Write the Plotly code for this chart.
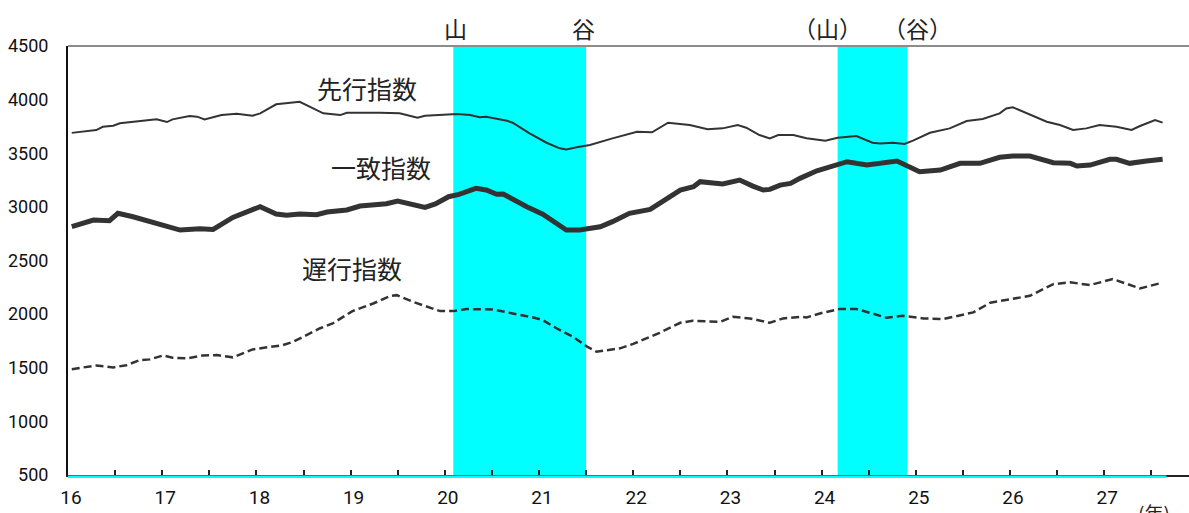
import plotly.graph_objects as go

# ---- data (years: Showa era, decimal) ----
lead_x = [16.04, 16.30, 16.37, 16.48, 16.55, 16.94, 17.05, 17.11, 17.29, 17.37, 17.45, 17.54, 17.63,
          17.79, 17.96, 18.04, 18.21, 18.46, 18.71, 18.89, 18.96, 19.31, 19.52, 19.71, 19.79, 20.13,
          20.27, 20.37, 20.44, 20.66, 20.72, 20.90, 21.08, 21.22, 21.29, 21.40, 21.54, 21.78, 22.04,
          22.20, 22.37, 22.60, 22.79, 22.95, 23.11, 23.20, 23.34, 23.45, 23.54, 23.70, 23.84, 24.04,
          24.17, 24.37, 24.54, 24.62, 24.76, 24.88, 24.97, 25.15, 25.36, 25.54, 25.71, 25.89, 25.96,
          26.03, 26.14, 26.39, 26.53, 26.67, 26.81, 26.95, 27.13, 27.29, 27.38, 27.54, 27.62]
lead_y = [3690, 3716, 3747, 3757, 3779, 3816, 3791, 3816, 3847, 3841, 3816, 3835, 3856,
          3869, 3850, 3872, 3956, 3980, 3872, 3856, 3878, 3878, 3872, 3831, 3850, 3866,
          3856, 3835, 3841, 3803, 3785, 3686, 3598, 3546, 3536, 3555, 3577, 3639, 3701,
          3695, 3785, 3763, 3723, 3732, 3763, 3738, 3670, 3639, 3670, 3670, 3639, 3617,
          3645, 3660, 3598, 3592, 3598, 3586, 3617, 3691, 3732, 3800, 3819, 3872, 3918,
          3928, 3887, 3794, 3763, 3717, 3732, 3763, 3748, 3717, 3754, 3810, 3785]

coin_x = [16.04, 16.20, 16.27, 16.44, 16.53, 16.69, 16.90, 17.19, 17.40, 17.54, 17.75, 17.90, 18.04,
          18.21, 18.32, 18.46, 18.64, 18.75, 18.96, 19.10, 19.21, 19.38, 19.50, 19.65, 19.79, 19.90,
          20.04, 20.15, 20.33, 20.44, 20.55, 20.62, 20.72, 20.87, 21.04, 21.19, 21.29, 21.43, 21.51,
          21.65, 21.78, 21.96, 22.18, 22.31, 22.50, 22.64, 22.71, 22.95, 23.13, 23.27, 23.38, 23.45,
          23.56, 23.67, 23.77, 23.95, 24.09, 24.27, 24.48, 24.80, 25.04, 25.26, 25.47, 25.68, 25.89,
          26.03, 26.21, 26.46, 26.64, 26.71, 26.85, 27.06, 27.13, 27.27, 27.45, 27.62]
coin_y = [2815, 2862, 2877, 2871, 2940, 2908, 2852, 2784, 2796, 2790, 2902, 2952, 3002,
          2933, 2921, 2933, 2927, 2952, 2971, 3008, 3020, 3030, 3055, 3027, 2995, 3027,
          3095, 3117, 3173, 3157, 3117, 3120, 3070, 3002, 2931, 2847, 2784, 2784, 2793,
          2815, 2862, 2940, 2977, 3048, 3157, 3188, 3235, 3213, 3250, 3194, 3157, 3163,
          3203, 3219, 3266, 3337, 3375, 3421, 3390, 3427, 3328, 3343, 3406, 3406, 3462,
          3474, 3474, 3412, 3406, 3381, 3390, 3443, 3443, 3406, 3427, 3443]

lag_x = [16.04, 16.16, 16.30, 16.48, 16.62, 16.76, 16.87, 17.01, 17.11, 17.26, 17.43, 17.58, 17.75,
         17.96, 18.11, 18.28, 18.39, 18.53, 18.67, 18.81, 19.02, 19.24, 19.42, 19.49, 19.66, 19.95,
         20.09, 20.23, 20.51, 20.72, 20.94, 21.04, 21.19, 21.36, 21.51, 21.61, 21.86, 22.00, 22.28,
         22.50, 22.63, 22.92, 23.06, 23.24, 23.45, 23.59, 23.77, 23.84, 24.01, 24.19, 24.37, 24.54,
         24.69, 24.86, 25.08, 25.29, 25.61, 25.79, 25.96, 26.21, 26.46, 26.64, 26.85, 27.09, 27.38,
         27.59]
lag_y = [1487, 1503, 1521, 1503, 1524, 1571, 1578, 1615, 1593, 1587, 1615, 1618, 1597,
         1671, 1690, 1711, 1742, 1804, 1866, 1913, 2028, 2099, 2168, 2177, 2115, 2028,
         2028, 2047, 2044, 2006, 1969, 1944, 1866, 1789, 1697, 1650, 1681, 1722, 1826,
         1919, 1938, 1928, 1975, 1960, 1919, 1960, 1975, 1969, 2013, 2047, 2047, 2006,
         1966, 1985, 1960, 1954, 2016, 2106, 2131, 2171, 2280, 2296, 2271, 2327, 2240,
         2287]

# business cycle bands (peak -> trough)
band_start = [20.09, 24.17]
band_end = [21.50, 24.91]
band_labels = [("山", 20.11), ("谷", 21.47), ("（山）", 24.06), ("（谷）", 25.02)]

series_labels = [("先行指数", 19.17, 4108), ("一致指数", 19.32, 3372), ("遅行指数", 19.01, 2430)]

x_range = [16, 27.9]
series_end = 27.66
y_ticks = [500, 1000, 1500, 2000, 2500, 3000, 3500, 4000, 4500]
x_tickvals = [16 + 0.5 * i for i in range(24)]
x_ticktext = [str(int(v)) if v == int(v) else "" for v in x_tickvals]

LINE = "#333333"
CYAN = "#00FFFF"
NUMFONT = "Roboto, sans-serif"
JPFONT = "Noto Sans CJK JP"

fig = go.Figure()
fig.add_trace(go.Scatter(x=lead_x, y=lead_y, mode="lines", line=dict(color=LINE, width=2), name="先行指数"))
fig.add_trace(go.Scatter(x=coin_x, y=coin_y, mode="lines", line=dict(color=LINE, width=5), name="一致指数"))
fig.add_trace(go.Scatter(x=lag_x, y=lag_y, mode="lines", line=dict(color=LINE, width=2.5, dash="8px,4px"), name="遅行指数"))

shapes = []
for s, e in zip(band_start, band_end):
    shapes.append(dict(type="rect", xref="x", yref="paper", x0=s, x1=e, y0=0, y1=1,
                       fillcolor=CYAN, line=dict(width=0), layer="below"))
# top border (gray)
shapes.append(dict(type="line", xref="paper", yref="paper", x0=0, x1=1, y0=1, y1=1,
                   line=dict(color="#8c8c8c", width=2)))
# cyan baseline
shapes.append(dict(type="line", xref="x", yref="paper", x0=x_range[0], x1=series_end, y0=-0.004, y1=-0.004,
                   line=dict(color=CYAN, width=2.5)))

annotations = []
for txt, xv in band_labels:
    annotations.append(dict(text=txt, x=xv, y=1.042, xref="x", yref="paper", showarrow=False,
                            xanchor="center", yanchor="middle",
                            font=dict(family=JPFONT, size=23, color="#222222")))
for txt, xv, yv in series_labels:
    annotations.append(dict(text=txt, x=xv, y=yv, xref="x", yref="y", showarrow=False,
                            xanchor="center", yanchor="middle",
                            font=dict(family=JPFONT, size=25, color="#222222")))
annotations.append(dict(text="(年)", x=27.53, y=-0.052, xref="x", yref="paper", showarrow=False,
                        xanchor="center", yanchor="top",
                        font=dict(family=JPFONT, size=19, color="#222222")))

fig.update_layout(
    width=1189, height=513,
    margin=dict(l=68, r=0, t=46, b=38, autoexpand=False),
    paper_bgcolor="white", plot_bgcolor="white",
    showlegend=False,
    shapes=shapes, annotations=annotations,
    xaxis=dict(range=x_range, tickvals=x_tickvals, ticktext=x_ticktext, automargin=False,
               ticks="inside", ticklen=5, tickwidth=1.5, tickcolor="#222222",
               showline=True, linecolor="#222222", linewidth=2,
               showgrid=False, zeroline=False, ticklabelshift=3, ticklabelstandoff=4,
               tickfont=dict(family=NUMFONT, size=19, color="#111111")),
    yaxis=dict(range=[500, 4500], tickvals=y_ticks, ticks="", automargin=False,
               showline=True, linecolor="#111111", linewidth=2,
               showgrid=False, zeroline=False, ticklabelstandoff=14,
               tickfont=dict(family=NUMFONT, size=18, color="#111111")),
)

fig.write_html("out.html", config={"displayModeBar": False},
               post_script="document.body.style.margin='0';document.body.style.overflow='hidden';")
